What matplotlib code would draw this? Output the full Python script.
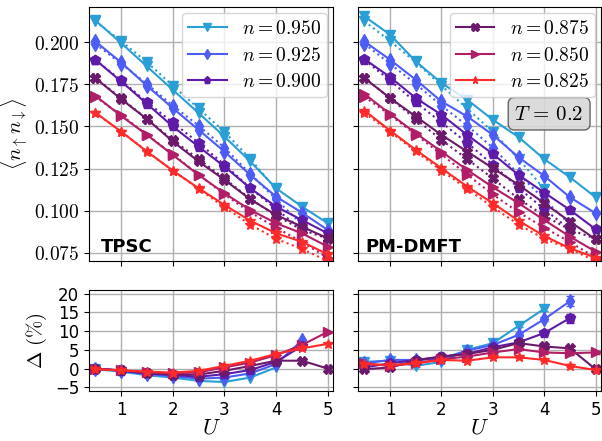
import numpy as np
import matplotlib
matplotlib.use("Agg")
import matplotlib.pyplot as plt
from matplotlib.ticker import FuncFormatter

plt.rcParams['mathtext.fontset'] = 'cm'

U = [0.5, 1.0, 1.5, 2.0, 2.5, 3.0, 3.5, 4.0, 4.5, 5.0]
fillings = ["0.950", "0.925", "0.900", "0.875", "0.850", "0.825"]
colors = ["#2a9fd6", "#4d5cf5", "#5e1aa8", "#6b1a6b", "#b01e68", "#ff2a2a"]
markers = ["v", "d", "p", "X", ">", "*"]

# benchmark double occupancy (dotted), shorter for the largest fillings
ref_d = [
    [0.2126, 0.2008, 0.1882, 0.1743, 0.1607, 0.1468, 0.1307, 0.1128],
    [0.1992, 0.1873, 0.1753, 0.1624, 0.1505, 0.1374, 0.1218, 0.1068, 0.0917],
    [0.1896, 0.1774, 0.1644, 0.1524, 0.1403, 0.1273, 0.1135, 0.1008, 0.0888],
    [0.1790, 0.1667, 0.1545, 0.1420, 0.1306, 0.1191, 0.1070, 0.0970, 0.0886, 0.0833],
    [0.1677, 0.1568, 0.1452, 0.1334, 0.1214, 0.1096, 0.0990, 0.0899, 0.0813, 0.0720],
    [0.1581, 0.1470, 0.1352, 0.1238, 0.1130, 0.1020, 0.0917, 0.0832, 0.0772, 0.0700],
]

tpsc_d = [
    [0.2131, 0.1996, 0.1857, 0.1718, 0.1580, 0.1440, 0.1292, 0.1133, 0.1024, 0.0925],
    [0.2006, 0.1881, 0.1742, 0.1609, 0.1480, 0.1351, 0.1212, 0.1083, 0.0988, 0.0885],
    [0.1897, 0.1768, 0.1635, 0.1500, 0.1380, 0.1262, 0.1133, 0.1024, 0.0944, 0.0865],
    [0.1788, 0.1663, 0.1544, 0.1411, 0.1292, 0.1183, 0.1067, 0.0974, 0.0905, 0.0835],
    [0.1683, 0.1563, 0.1450, 0.1331, 0.1212, 0.1103, 0.1004, 0.0925, 0.0865, 0.0786],
    [0.1583, 0.1470, 0.1351, 0.1238, 0.1133, 0.1034, 0.0940, 0.0865, 0.0815, 0.0740],
]

dmft_d = [
    [0.2155, 0.2046, 0.1887, 0.1758, 0.1659, 0.1540, 0.1437, 0.1306, 0.1198, 0.1079],
    [0.2006, 0.1897, 0.1778, 0.1649, 0.1560, 0.1450, 0.1317, 0.1206, 0.1079, 0.0984],
    [0.1901, 0.1794, 0.1669, 0.1570, 0.1450, 0.1337, 0.1212, 0.1107, 0.1004, 0.0889],
    [0.1788, 0.1669, 0.1560, 0.1450, 0.1351, 0.1252, 0.1153, 0.1044, 0.0935, 0.0829],
    [0.1694, 0.1575, 0.1460, 0.1351, 0.1242, 0.1139, 0.1044, 0.0944, 0.0845, 0.0756],
    [0.1595, 0.1476, 0.1361, 0.1252, 0.1143, 0.1044, 0.0940, 0.0849, 0.0776, 0.0720],
]

# relative deviation from the benchmark, in percent
tpsc_delta = [
    [-0.2, -0.8, -1.8, -2.4, -3.3, -3.6, -2.4, 0.3],
    [0.0, -0.6, -1.5, -2.0, -2.7, -2.4, -1.3, 1.2, 7.5],
    [0.0, -0.6, -1.3, -1.7, -2.2, -1.5, -0.4, 1.8, 6.0],
    [0.0, -0.5, -1.2, -1.6, -1.6, -0.6, 0.7, 2.1, 2.1, 0.0],
    [0.0, -0.5, -1.0, -1.3, -1.0, 0.3, 1.6, 3.6, 6.3, 9.8],
    [-0.2, -0.5, -0.8, -1.1, -0.6, 0.7, 2.1, 3.9, 5.4, 6.6],
]
dmft_delta = [
    [1.8, 2.1, 0.7, 1.8, 5.0, 6.8, 11.4, 16.0],
    [1.4, 2.3, 2.3, 2.7, 4.8, 6.3, 9.0, 13.2, 18.0],
    [0.3, 1.4, 2.3, 3.2, 3.9, 5.7, 7.0, 9.5, 13.5],
    [-0.2, 0.3, 2.1, 3.2, 3.9, 5.0, 6.8, 5.9, 5.4, -0.2],
    [1.4, 0.7, 1.4, 2.5, 3.2, 4.3, 5.2, 4.3, 4.1, 4.3],
    [1.2, 0.9, 1.4, 2.3, 2.1, 3.0, 3.0, 2.3, 0.7, -0.4],
]
dmft_delta_err = [
    [0.3, 0.3, 0.3, 0.3, 0.3, 0.3, 0.4, 0.6],
    [0.3, 0.3, 0.3, 0.3, 0.3, 0.3, 0.4, 0.6, 1.3],
    [0.3, 0.3, 0.3, 0.3, 0.3, 0.3, 0.4, 0.6, 1.2],
    [0.3, 0.3, 0.3, 0.3, 0.3, 0.3, 0.4, 0.5, 0.6, 0.6],
    [0.3, 0.3, 0.3, 0.3, 0.3, 0.3, 0.3, 0.4, 0.5, 0.5],
    [0.3, 0.3, 0.3, 0.3, 0.3, 0.3, 0.3, 0.3, 0.4, 0.4],
]

fig = plt.figure(figsize=(6.02, 4.41), dpi=100)
ax_tl = fig.add_axes([0.148, 0.408, 0.405, 0.576])
ax_tr = fig.add_axes([0.595, 0.408, 0.403, 0.576])
ax_bl = fig.add_axes([0.148, 0.1134, 0.405, 0.229])
ax_br = fig.add_axes([0.595, 0.1134, 0.403, 0.229])

ms = 7
for ax, method_d in [(ax_tl, tpsc_d), (ax_tr, dmft_d)]:
    for i, n in enumerate(fillings):
        r = ref_d[i]
        ax.plot(U[:len(r)], r, ':', color=colors[i], marker=markers[i], ms=ms, lw=1.5)
        ax.plot(U, method_d[i], '-', color=colors[i], marker=markers[i], ms=ms, lw=1.5,
                label=r'$n = %s$' % n)

for i in range(6):
    d = tpsc_delta[i]
    ax_bl.plot(U[:len(d)], d, '-', color=colors[i], marker=markers[i], ms=ms, lw=1.5)
    d = dmft_delta[i]
    ax_br.errorbar(U[:len(d)], d, yerr=dmft_delta_err[i], fmt='-', color=colors[i],
                   marker=markers[i], ms=ms, lw=1.5, capsize=3)

for ax in [ax_tl, ax_tr, ax_bl, ax_br]:
    ax.set_xlim(0.38, 5.1)
    ax.set_xticks([1, 2, 3, 4, 5])
    ax.grid(True, color='#b0b0b0', lw=1)
    ax.set_axisbelow(True)
    ax.tick_params(labelsize=12)

for ax in [ax_tl, ax_tr]:
    ax.set_ylim(0.070, 0.221)
    ax.set_yticks([0.075, 0.100, 0.125, 0.150, 0.175, 0.200])
    ax.tick_params(labelbottom=False)
ax_tl.yaxis.set_major_formatter(FuncFormatter(lambda v, p: r'$%.3f$' % v))
ax_tl.tick_params(axis='y', labelsize=14)
ax_tr.tick_params(labelleft=False)

for ax in [ax_bl, ax_br]:
    ax.set_ylim(-6, 21)
    ax.set_yticks([-5, 0, 5, 10, 15, 20])
    ax.set_xlabel(r'$U$', fontsize=16, labelpad=-1)
ax_br.tick_params(labelleft=False)

ax_tl.set_ylabel(r'$\langle n_{\uparrow} n_{\downarrow} \rangle$', fontsize=15, labelpad=2)
ax_bl.set_ylabel(r'$\Delta\ (\%)$', fontsize=15)

leg_kw = dict(loc='upper right', fontsize=14, markerscale=0.75, handlelength=2.0,
              handletextpad=0.8, borderaxespad=0.3, labelspacing=0.4, borderpad=0.3)
h, l = ax_tl.get_legend_handles_labels()
ax_tl.legend(h[:3], l[:3], **leg_kw)
h, l = ax_tr.get_legend_handles_labels()
ax_tr.legend(h[3:], l[3:], **leg_kw)

ax_tl.text(0.05, 0.02, 'TPSC', transform=ax_tl.transAxes, fontsize=13,
           fontweight='bold', va='bottom')
ax_tr.text(0.03, 0.02, 'PM-DMFT', transform=ax_tr.transAxes, fontsize=13,
           fontweight='bold', va='bottom')
ax_tr.text(0.93, 0.58, r'$T\,=\,0.2$', transform=ax_tr.transAxes, fontsize=15,
           ha='right', va='center',
           bbox=dict(boxstyle='round,pad=0.3', fc='#d8d8d8', ec='#555555', alpha=0.9))

fig.savefig('out.png', dpi=100)
